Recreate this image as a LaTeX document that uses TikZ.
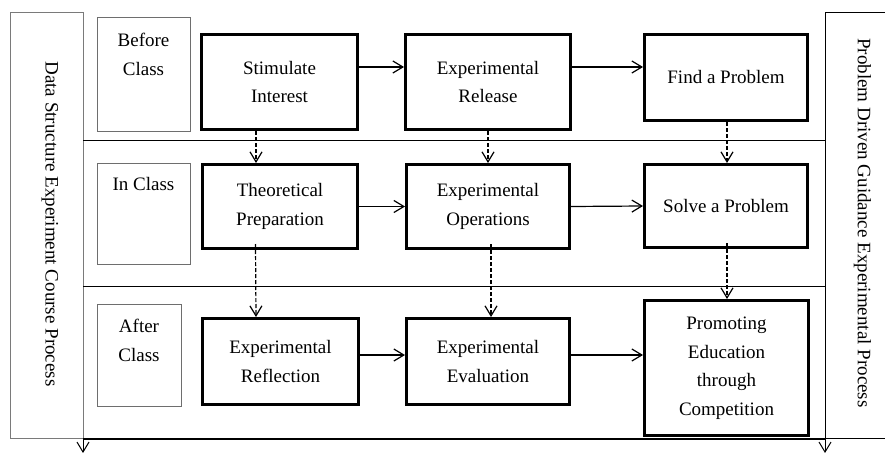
\documentclass[tikz,border=0pt]{standalone}
\usepackage{fontspec}
\setmainfont{Liberation Serif}
\usetikzlibrary{arrows.meta}
\definecolor{framegray}{HTML}{7A7A7A}
\definecolor{labgray}{HTML}{6E6E6E}
\begin{document}
\begin{tikzpicture}[x=1pt,y=-1pt,
  every node/.style={font=\fontsize{19}{28.5}\selectfont},
  mainbox/.style={draw=black, line width=3pt, align=center, inner sep=0pt},
  labbox/.style={draw=labgray, line width=1pt, inner sep=0pt},
  labtext/.style={anchor=north, align=center, inner sep=0pt},
  sideline/.style={line width=1.3pt},
  arr/.style={line width=1.2pt, -{Straight Barb[length=10pt,width=12pt]}},
  darr/.style={arr, dash pattern=on 4pt off 2pt},
]
\useasboundingbox (0,0) rectangle (885,452);
\fill[white] (0,0) rectangle (885,452);

% outer frames
\draw[framegray, line width=1pt] (10,13) rectangle (83,438.5);
\draw[black, line width=1pt] (825,13) rectangle (890,438.5);

% row separators
\draw[sideline] (83,140.5) -- (825,140.5);
\draw[sideline] (83,286.5) -- (825,286.5);
\draw[line width=2pt] (83,438.5) -- (825,438.5);

% side labels
\node[rotate=-90] (lt) at (50,224) {Data Structure Experiment Course Process};
\node[rotate=-90] (rt) at (862.5,223) {Problem Driven Guidance Experimental Process};

% stage label boxes
\node[labbox, minimum width=93pt, minimum height=113pt] (bc) at (143.5,74.5) {};
\node[labtext] (bct) at (143.5,33) {Before\\Class};
\node[labbox, minimum width=93pt, minimum height=101pt] (ic) at (143.5,213.5) {};
\node[labtext] (ict) at (143.5,177) {In Class};
\node[labbox, minimum width=84pt, minimum height=102pt] (ac) at (139,355) {};
\node[labtext] (act) at (139,319) {After\\Class};

% main boxes
\node[mainbox, minimum width=156pt, minimum height=95pt] (si) at (279.5,82) {Stimulate\\Interest};
\node[mainbox, minimum width=165pt, minimum height=95pt] (er) at (488,82) {Experimental\\Release};
\node[mainbox, minimum width=163pt, minimum height=86pt] (fp) at (726,77.5) {Find a Problem};

\node[mainbox, minimum width=155pt, minimum height=84pt] (tp) at (280,206.5) {Theoretical\\Preparation};
\node[mainbox, minimum width=163pt, minimum height=84pt] (eo) at (488,206.5) {Experimental\\Operations};
\node[mainbox, minimum width=163pt, minimum height=83pt] (sp) at (726,206) {Solve a Problem};

\node[mainbox, minimum width=156pt, minimum height=86pt] (rf) at (280.5,361.5) {Experimental\\Reflection};
\node[mainbox, minimum width=163pt, minimum height=86pt] (ev) at (488,361.5) {Experimental\\Evaluation};
\node[mainbox, minimum width=164pt, minimum height=135pt] (pe) at (726.5,368) {Promoting\\Education\\through\\Competition};

% horizontal arrows
\draw[arr] ([yshift=15pt]si.east) -- ([yshift=15pt]er.west);
\draw[arr] ([yshift=15pt]er.east) -- ([yshift=10.5pt]fp.west);
\draw[arr] (tp.east) -- (eo.west);
\draw[arr] (eo.east) -- (sp.west);
\draw[arr] ([yshift=6.5pt]rf.east) -- ([yshift=6.5pt]ev.west);
\draw[arr] ([yshift=6.5pt]ev.east) -- ([yshift=13pt]pe.west);

% dashed vertical arrows
\draw[darr] ([xshift=-23.5pt]si.south) -- ([xshift=-24pt]tp.north);
\draw[darr] (er.south) -- (eo.north);
\draw[darr] ([xshift=1pt]fp.south) -- ([xshift=1pt]sp.north);
\draw[darr] ([xshift=-24.5pt,yshift=6pt]tp.south) -- ([xshift=-24.5pt]rf.north);
\draw[darr] ([xshift=3pt,yshift=6pt]eo.south) -- ([xshift=3pt]ev.north);
\draw[darr] ([xshift=1pt,yshift=6pt]sp.south) -- ([xshift=0.5pt]pe.north);

% exit arrows
\coordinate (lbot) at (83,438.5);
\coordinate (lend) at (83,453);
\coordinate (rbot) at (825,438.5);
\coordinate (rend) at (825,453);
\draw[line width=1pt, -{Straight Barb[length=10pt,width=12pt]}] (lbot) -- (lend);
\draw[line width=1pt, -{Straight Barb[length=10pt,width=12pt]}] (rbot) -- (rend);
\end{tikzpicture}
\end{document}
